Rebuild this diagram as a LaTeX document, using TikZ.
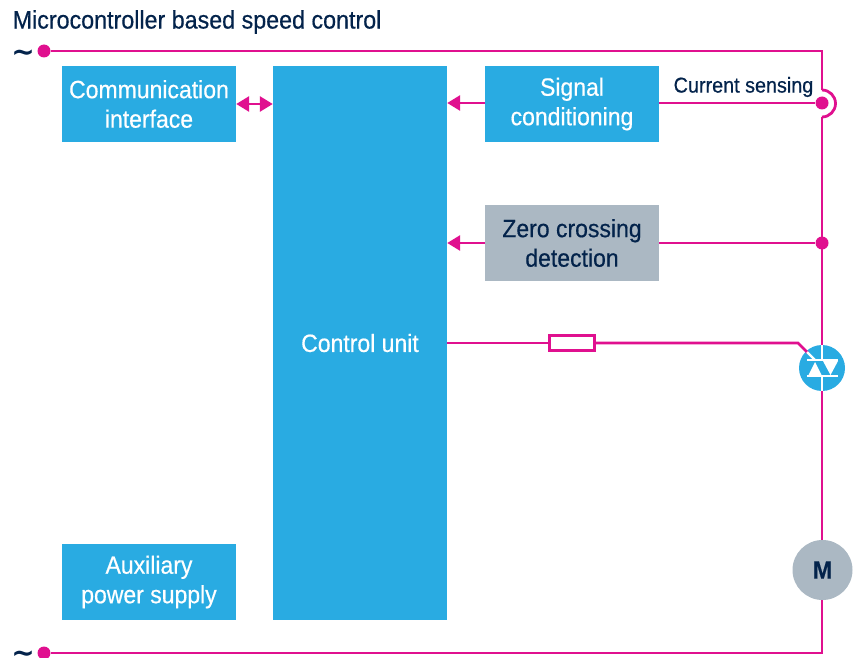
\documentclass[tikz,border=0pt]{standalone}
\usepackage{fontspec}
\setmainfont[FakeStretch=0.92,FakeBold=0.5]{Liberation Sans}
\newfontfamily\tildefont{DejaVu Sans Bold}
\usetikzlibrary{arrows.meta,calc}
\definecolor{stblue}{HTML}{29ABE2}
\definecolor{stgrey}{HTML}{ABB8C3}
\definecolor{stpink}{HTML}{E0108F}
\definecolor{stnavy}{HTML}{03234B}
\tikzset{
  x=1pt,y=-1pt,
  box/.style={fill=#1,draw=none,inner sep=0pt,align=center,font=\fontsize{25}{29.5}\selectfont,text=white},
  wire/.style={draw=stpink,line width=2.8pt},
  tip/.style={-{Triangle[length=13pt,width=15pt]}},
  dot/.style={circle,fill=stpink,inner sep=0pt,minimum size=#1},
  sym/.style={draw=white,line width=2.2pt},
  lab/.style={text=stnavy,inner sep=0pt}
}
\begin{document}
\begin{tikzpicture}
\useasboundingbox (0,0) rectangle (854,658);
% boxes
\node[box=stblue,minimum width=174pt,minimum height=76pt] (comm) at (149,104) {Communication\\interface};
\node[box=stblue,minimum width=174pt,minimum height=554pt] (ctrl) at (360,343) {Control unit};
\node[box=stblue,minimum width=174pt,minimum height=76pt] (sig) at (572,104) {Signal\\conditioning};
\node[box=stgrey,minimum width=174pt,minimum height=76pt,text=stnavy] (zero) at (572,243) {Zero crossing\\detection};
\node[box=stblue,minimum width=174pt,minimum height=76pt] (aux) at (149,582) {Auxiliary\\power supply};
% labels
\node[lab,anchor=west,font=\fontsize{25.3}{29}\selectfont] (title) at (12.5,22) {Microcontroller based speed control};
\node[lab,anchor=west,font=\fontsize{21.5}{26}\selectfont] (cur) at (673.5,87) {Current sensing};
\node[lab,anchor=base,font=\fontsize{28}{28}\tildefont] (t1) at (23,61.5) {\char"7E};
\node[lab,anchor=base,font=\fontsize{28}{28}\tildefont] (t2) at (23,662) {\char"7E};
% terminals and junctions
\node[dot=13pt] (in1) at (44,51) {};
\node[dot=13pt] (in2) at (44,653) {};
\node[dot=13pt] (jc) at (822,103) {};
\node[dot=13pt] (jz) at (822,243) {};
\coordinate (tr) at (822,51);
\coordinate (br) at (822,653);
\coordinate (ja) at (822,90);
\coordinate (jb) at (822,117);
\coordinate (bend) at (798,343);
% triac and motor
\node[circle,fill=stblue,minimum size=46pt,inner sep=0pt] (triac) at (822,368) {};
\node[circle,fill=stgrey,minimum size=60pt,inner sep=0pt,font=\bfseries\fontsize{25}{25}\selectfont,text=stnavy] (motor) at (822.5,570) {M};
\node[draw=stpink,line width=2.8pt,fill=white,minimum width=45pt,minimum height=15pt,inner sep=0pt] (res) at (572,343) {};
% wires
\draw[wire] (in1) -- (tr) -- (ja);
\draw[wire] (ja) arc[start angle=-90,end angle=90,radius=13.5];
\draw[wire] (jb) -- (triac.north);
\draw[wire] (triac.south) -- (motor.north -| triac.south);
\draw[wire] (motor.south -| br) -- (br) -- (in2);
\draw[wire] (sig.east |- jc) -- (jc);
\draw[wire] (zero.east) -- (jz);
\draw[wire] (ctrl.east |- res) -- (res.west);
\draw[wire] (res.east) -- (bend) -- (808,353);
% arrows
\draw[wire,tip] (sig.west |- jc) -- (ctrl.east |- jc);
\draw[wire,tip] (zero.west) -- (ctrl.east |- zero);
\draw[wire,{Triangle[length=13pt,width=15pt]}-{Triangle[length=13pt,width=15pt]}] (comm.east) -- (ctrl.west |- comm);
% triac symbol
\begin{scope}
\clip (triac) circle (23pt);
\draw[sym] (822,345) -- (822,360);
\draw[sym] (822,376) -- (822,391);
\draw[sym] (807,360) -- (838,360);
\draw[sym] (807,376) -- (838,376);
\draw[sym] (807,352) -- (815,360);
\fill[white] (823,361) -- (838,361) -- (830.5,375) -- cycle;
\fill[white] (808,376) -- (822,376) -- (815,362) -- cycle;
\end{scope}
\end{tikzpicture}
\end{document}
